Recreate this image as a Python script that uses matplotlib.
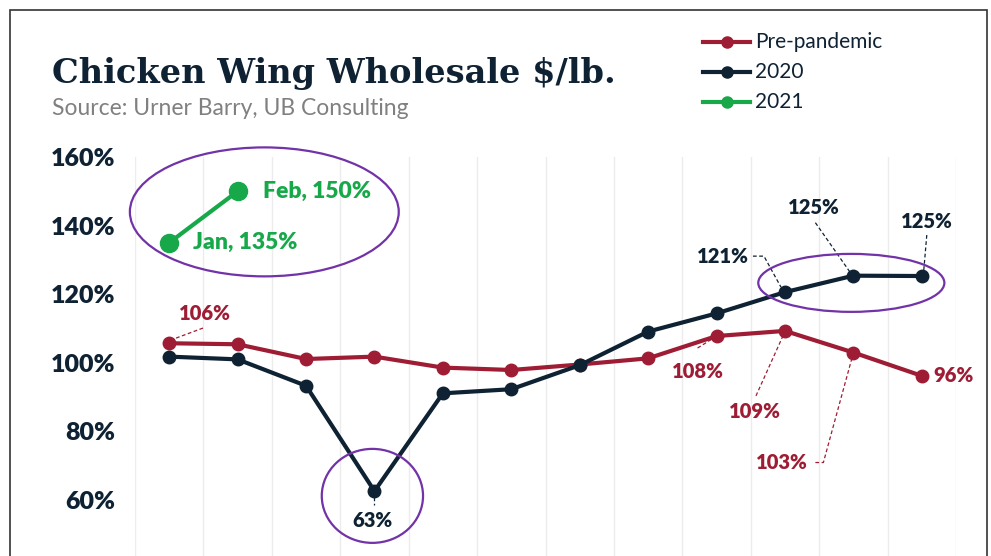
import matplotlib.pyplot as plt
import numpy as np
from matplotlib.patches import Ellipse, Rectangle
from matplotlib.lines import Line2D

# data (share of normal wholesale price, %)
months = ["Jan", "Feb", "Mar", "Apr", "May", "Jun",
          "Jul", "Aug", "Sep", "Oct", "Nov", "Dec"]
pre_pandemic = [105.7, 105.4, 101.1, 101.8, 98.6, 97.9,
                99.5, 101.3, 107.8, 109.3, 103.0, 96.2]
y2020 = [101.8, 101.0, 93.3, 62.6, 91.1, 92.3,
         99.3, 109.1, 114.4, 120.6, 125.4, 125.3]
y2021 = [135, 150]
yticks = [60, 80, 100, 120, 140, 160]

RED = "#9e1d34"
NAVY = "#0e2233"
GREEN = "#17a84a"
PURPLE = "#7232a8"
FONT = "Lato"

x = np.arange(len(months))

fig = plt.figure(figsize=(9.91, 5.56), dpi=100)
ax = fig.add_axes([135 / 991, 0, 821 / 991, 399 / 556])
ax.set_xlim(-0.5, 11.5)
ax.set_ylim(160 - 399 / 3.43, 160)

# vertical grid between months
for g in np.arange(-0.5, 12, 1):
    ax.axvline(g, color="#ececec", lw=1, zorder=0)

ax.plot(x, pre_pandemic, color=RED, lw=3, marker="o", ms=9, zorder=3)
ax.plot(x, y2020, color=NAVY, lw=3, marker="o", ms=9, zorder=4)
ax.plot(x[:2], y2021, color=GREEN, lw=3, marker="o", ms=13, zorder=4, clip_on=False)

ax.set_xticks([])
ax.set_yticks(yticks)
ax.set_yticklabels([f"{t}%" for t in yticks], fontsize=18, fontweight="heavy",
                   color=NAVY, fontfamily=FONT)
ax.tick_params(axis="y", length=0, pad=14)
for s in ax.spines.values():
    s.set_visible(False)

sx = ax.bbox.width / 12
sy = ax.bbox.height / (399 / 3.43)


def off(i, v, dx, dy):
    # pixel offsets (y down) -> data coords
    return i + dx / sx, v - dy / sy


def label(series, i, text, color, dx, dy, leader=None, ha="center", size=14.5):
    v = series[i]
    tx, ty = off(i, v, dx, dy)
    ax.text(tx, ty, text, color=color, fontsize=size, fontweight="heavy",
            ha=ha, va="center", fontfamily=FONT, zorder=6, clip_on=False)
    if leader:
        pts = [off(i, v, a, b) for a, b in leader]
        ax.plot([p[0] for p in pts], [p[1] for p in pts], color=color, lw=0.9,
                ls=(0, (3, 2)), zorder=2)


label(pre_pandemic, 0, "106%", RED, 36, -30, [(1, -3), (36, -16)])
label(pre_pandemic, 8, "108%", RED, -19, 35, [(-19, 12), (-3, 2)])
label(pre_pandemic, 9, "109%", RED, -30, 81, [(-29, 65), (-2, 5)])
label(pre_pandemic, 10, "103%", RED, -72, 110, [(-38, 110), (-30, 110), (-1, 4)])
label(pre_pandemic, 11, "96%", RED, 12, 0, ha="left")
label(y2020, 3, "63%", NAVY, -2, 29, [(0, 6), (0, 14)])
label(y2020, 9, "121%", NAVY, -62, -36, [(-32, -36), (-21, -36), (-4, -5)])
label(y2020, 10, "125%", NAVY, -40, -68, [(-38, -53), (-3, -3)])
label(y2020, 11, "125%", NAVY, 5, -55, [(5, -41), (2, -6)])
label(y2021, 0, f"{months[0]}, {y2021[0]}%", GREEN, 24, 0, ha="left", size=16.5)
label(y2021, 1, f"{months[1]}, {y2021[1]}%", GREEN, 25, 0, ha="left", size=16.5)

# highlight ellipses
for (cx, cy, w, h) in [(1.39, 144.0, 3.93, 37.6), (2.97, 61.2, 1.48, 27.4),
                       (9.97, 123.3, 2.72, 16.9)]:
    ax.add_patch(Ellipse((cx, cy), w, h, fill=False, ec=PURPLE, lw=1.6,
                         zorder=5, clip_on=False))

# title block
fig.text(52 / 991, 1 - 83 / 556, "Chicken Wing Wholesale $/lb.", fontsize=24.2,
         fontweight="bold", fontfamily="DejaVu Serif", color=NAVY, va="baseline")
fig.text(52 / 991, 1 - 115 / 556, "Source: Urner Barry, UB Consulting",
         fontsize=16.5, color="#808080", fontfamily=FONT, va="baseline")

# legend
for k, (name, col) in enumerate([("Pre-pandemic", RED), ("2020", NAVY), ("2021", GREEN)]):
    yy = 1 - (42 + 30 * k) / 556
    fig.add_artist(Line2D([703 / 991, 750 / 991], [yy, yy], color=col, lw=3,
                          transform=fig.transFigure))
    fig.add_artist(Line2D([727 / 991], [yy], color=col, marker="o", ms=8,
                          transform=fig.transFigure))
    fig.text(755 / 991, yy, name, fontsize=15, color=NAVY, fontfamily=FONT,
             va="center")

# frame
fig.add_artist(Rectangle((10 / 991, -0.05), 977 / 991, 1.05 - 10 / 556,
                         transform=fig.transFigure, fill=False, ec="#333333", lw=1.2))

fig.savefig("out.png", dpi=100)
